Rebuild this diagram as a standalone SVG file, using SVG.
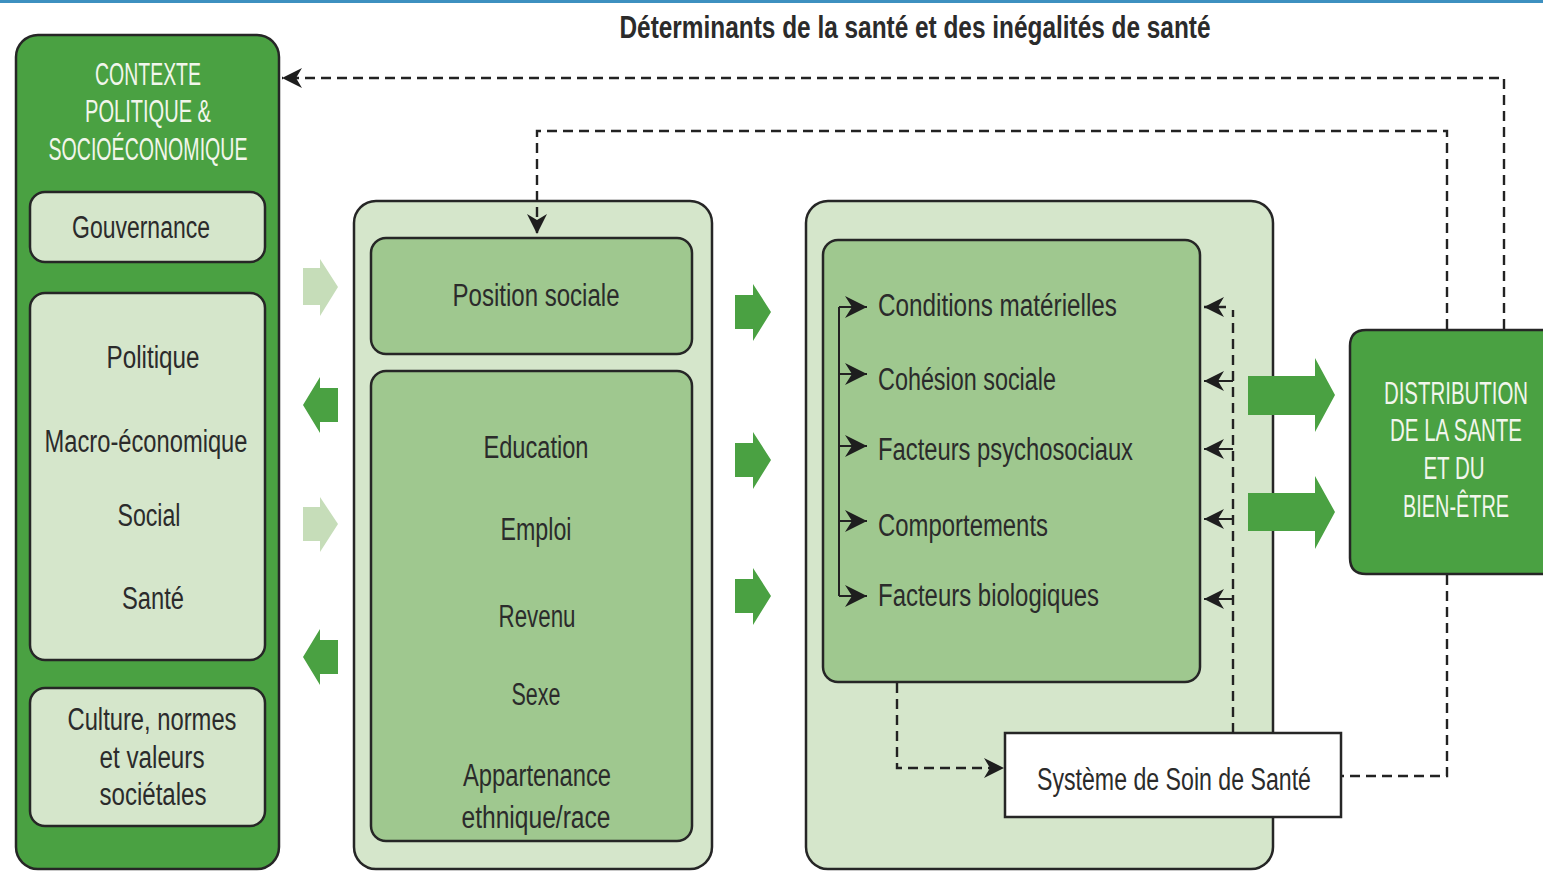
<svg xmlns="http://www.w3.org/2000/svg" width="1543" height="872" viewBox="0 0 1543 872">
<defs>
<style>
.t{font-family:"Liberation Sans","DejaVu Sans",sans-serif;font-size:31px;fill:#2b2b2b}
.w{font-family:"Liberation Sans","DejaVu Sans",sans-serif;font-size:31px;fill:#f2f6ec}
.dark{fill:#4aa142;stroke:#262626;stroke-width:2.5}
.light{fill:#d5e6cb;stroke:#262626;stroke-width:2.5}
.mid{fill:#9fc88f;stroke:#262626;stroke-width:2.5}
.dash{fill:none;stroke:#222;stroke-width:2.4;stroke-dasharray:10 6}
.solid{fill:none;stroke:#222;stroke-width:2}
.ga{fill:#4aa142}
.la{fill:#c6ddb9}
</style>
<marker id="ah" markerUnits="userSpaceOnUse" viewBox="0 0 20 20" refX="20" refY="10" markerWidth="20" markerHeight="20" orient="auto">
<path d="M0,0 L20,10 L0,20 L6,10 Z" fill="#1e1e1e"/>
</marker>
<marker id="ahs" markerUnits="userSpaceOnUse" viewBox="0 0 22 22" refX="22" refY="11" markerWidth="22" markerHeight="22" orient="auto">
<path d="M0,0 L22,11 L0,22 L7,11 Z" fill="#1e1e1e"/>
</marker>
</defs>
<rect x="0" y="0" width="1543" height="872" fill="#ffffff"/>
<rect x="0" y="0" width="1543" height="3" fill="#3d90c0"/>

<text class="t" x="915" y="38" text-anchor="middle" font-weight="bold" textLength="591" lengthAdjust="spacingAndGlyphs">Déterminants de la santé et des inégalités de santé</text>

<g id="contexte">
<rect class="dark" x="16" y="35" width="263" height="834" rx="22"/>
<text class="w" x="148" y="85" text-anchor="middle" textLength="106" lengthAdjust="spacingAndGlyphs">CONTEXTE</text>
<text class="w" x="148" y="122" text-anchor="middle" textLength="126" lengthAdjust="spacingAndGlyphs">POLITIQUE &amp;</text>
<text class="w" x="148" y="160" text-anchor="middle" textLength="199" lengthAdjust="spacingAndGlyphs">SOCIOÉCONOMIQUE</text>
</g>
<g id="gouvernance">
<rect class="light" x="30" y="192" width="235" height="70" rx="15"/>
<text class="t" x="141" y="238" text-anchor="middle" textLength="138" lengthAdjust="spacingAndGlyphs">Gouvernance</text>
</g>
<g id="politiques">
<rect class="light" x="30" y="293" width="235" height="367" rx="15"/>
<text class="t" x="153" y="368" text-anchor="middle" textLength="93" lengthAdjust="spacingAndGlyphs">Politique</text>
<text class="t" x="146" y="452" text-anchor="middle" textLength="203" lengthAdjust="spacingAndGlyphs">Macro-économique</text>
<text class="t" x="149" y="526" text-anchor="middle" textLength="63" lengthAdjust="spacingAndGlyphs">Social</text>
<text class="t" x="153" y="609" text-anchor="middle" textLength="62" lengthAdjust="spacingAndGlyphs">Santé</text>
</g>
<g id="culture">
<rect class="light" x="30" y="688" width="235" height="138" rx="15"/>
<text class="t" x="152" y="730" text-anchor="middle" textLength="169" lengthAdjust="spacingAndGlyphs">Culture, normes</text>
<text class="t" x="152" y="768" text-anchor="middle" textLength="105" lengthAdjust="spacingAndGlyphs">et valeurs</text>
<text class="t" x="153" y="805" text-anchor="middle" textLength="107" lengthAdjust="spacingAndGlyphs">sociétales</text>
</g>

<g id="arrows-left">
<path class="la" d="M303,268 H320 V259 L338,287 L320,316 V305 H303 Z"/>
<path class="ga" d="M338,388 H320 V377 L303,405 L320,433 V422 H338 Z"/>
<path class="la" d="M303,507 H320 V497 L338,524 L320,552 V541 H303 Z"/>
<path class="ga" d="M338,640 H320 V629 L303,657 L320,685 V674 H338 Z"/>
</g>

<g id="position">
<rect class="light" x="354" y="201" width="358" height="668" rx="22"/>
<rect class="mid" x="371" y="238" width="321" height="116" rx="15"/>
<text class="t" x="536" y="306" text-anchor="middle" textLength="167" lengthAdjust="spacingAndGlyphs">Position sociale</text>
</g>
<g id="stratificateurs">
<rect class="mid" x="371" y="371" width="321" height="470" rx="15"/>
<text class="t" x="536" y="458" text-anchor="middle" textLength="105" lengthAdjust="spacingAndGlyphs">Education</text>
<text class="t" x="536" y="540" text-anchor="middle" textLength="71" lengthAdjust="spacingAndGlyphs">Emploi</text>
<text class="t" x="537" y="627" text-anchor="middle" textLength="77" lengthAdjust="spacingAndGlyphs">Revenu</text>
<text class="t" x="536" y="705" text-anchor="middle" textLength="49" lengthAdjust="spacingAndGlyphs">Sexe</text>
<text class="t" x="537" y="786" text-anchor="middle" textLength="148" lengthAdjust="spacingAndGlyphs">Appartenance</text>
<text class="t" x="536" y="828" text-anchor="middle" textLength="149" lengthAdjust="spacingAndGlyphs">ethnique/race</text>
</g>

<g id="arrows-middle">
<path class="ga" d="M735,295 H753 V284 L771,312 L753,341 V329 H735 Z"/>
<path class="ga" d="M735,443 H753 V432 L771,460 L753,489 V477 H735 Z"/>
<path class="ga" d="M735,579 H753 V568 L771,596 L753,625 V613 H735 Z"/>
</g>

<g id="intermediaires">
<rect class="light" x="806" y="201" width="467" height="668" rx="22"/>
<rect class="mid" x="823" y="240" width="377" height="442" rx="15"/>
<text class="t" x="878" y="316" textLength="239" lengthAdjust="spacingAndGlyphs">Conditions matérielles</text>
<text class="t" x="878" y="390" textLength="178" lengthAdjust="spacingAndGlyphs">Cohésion sociale</text>
<text class="t" x="878" y="460" textLength="255" lengthAdjust="spacingAndGlyphs">Facteurs psychosociaux</text>
<text class="t" x="878" y="536" textLength="170" lengthAdjust="spacingAndGlyphs">Comportements</text>
<text class="t" x="878" y="606" textLength="221" lengthAdjust="spacingAndGlyphs">Facteurs biologiques</text>
</g>

<g id="systeme">
<rect x="1005" y="733" width="336" height="84" fill="#ffffff" stroke="#262626" stroke-width="2.5"/>
<text class="t" x="1174" y="790" text-anchor="middle" textLength="274" lengthAdjust="spacingAndGlyphs">Système de Soin de Santé</text>
</g>

<g id="arrows-right">
<path class="ga" d="M1248,376 H1315 V358 L1335,395 L1315,432 V415 H1248 Z"/>
<path class="ga" d="M1248,493 H1315 V476 L1335,512 L1315,549 V531 H1248 Z"/>
</g>

<g id="distribution">
<path d="M1543,330 H1366 Q1350,330 1350,346 V558 Q1350,574 1366,574 H1543 Z" fill="#4aa142"/>
<path d="M1543,330 H1366 Q1350,330 1350,346 V558 Q1350,574 1366,574 H1543" fill="none" stroke="#262626" stroke-width="2.5"/>
<text class="w" transform="translate(1456,404) scale(0.68,1)" x="0" y="0" text-anchor="middle" textLength="212" lengthAdjust="spacingAndGlyphs">DISTRIBUTION</text>
<text class="w" transform="translate(1456,441) scale(0.68,1)" x="0" y="0" text-anchor="middle" textLength="194" lengthAdjust="spacingAndGlyphs">DE LA SANTE</text>
<text class="w" transform="translate(1454,479) scale(0.68,1)" x="0" y="0" text-anchor="middle" textLength="90" lengthAdjust="spacingAndGlyphs">ET DU</text>
<text class="w" transform="translate(1456,517) scale(0.68,1)" x="0" y="0" text-anchor="middle" textLength="156" lengthAdjust="spacingAndGlyphs">BIEN-ÊTRE</text>
</g>

<g id="connectors">
<path class="dash" d="M1504,329 V78 H282" marker-end="url(#ah)"/>
<path class="dash" d="M1447,329 V131 H537 V234" marker-end="url(#ah)"/>
<path class="dash" d="M1447,575 V776 H1342"/>
<path class="dash" d="M897,683 V768 H1004" marker-end="url(#ah)"/>
<path class="dash" d="M1233,733 V310"/>
<path class="dash" d="M1226,307 H1204" marker-end="url(#ah)"/>
<path class="solid" d="M1233,381 H1204" marker-end="url(#ah)"/>
<path class="solid" d="M1233,449 H1204" marker-end="url(#ah)"/>
<path class="solid" d="M1233,519 H1204" marker-end="url(#ah)"/>
<path class="solid" d="M1233,599 H1204" marker-end="url(#ah)"/>
<path class="solid" d="M839,596 V307"/>
<path class="solid" d="M839,307 H867" marker-end="url(#ahs)"/>
<path class="solid" d="M839,374 H867" marker-end="url(#ahs)"/>
<path class="solid" d="M839,446 H867" marker-end="url(#ahs)"/>
<path class="solid" d="M839,521 H867" marker-end="url(#ahs)"/>
<path class="solid" d="M839,596 H867" marker-end="url(#ahs)"/>
</g>
</svg>
